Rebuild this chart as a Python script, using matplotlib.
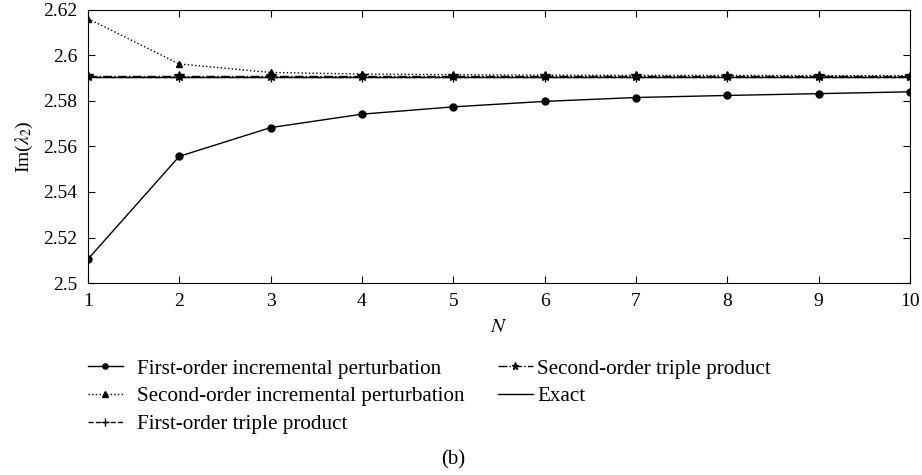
import matplotlib.pyplot as plt

plt.rcParams['font.family'] = 'Liberation Serif'
plt.rcParams['mathtext.fontset'] = 'stix'

# Nombre de termes N
N = [1, 2, 3, 4, 5, 6, 7, 8, 9, 10]

# Im(lambda_2) pour chaque méthode
premier_ordre_incr = [2.5105, 2.5556, 2.5682, 2.5741, 2.5773, 2.5797, 2.5814, 2.5823, 2.5831, 2.5839]
second_ordre_incr = [2.6160, 2.5961, 2.5924, 2.5917, 2.5914, 2.5912, 2.5911, 2.5911, 2.5910, 2.5910]
premier_ordre_triple = [2.5905, 2.5905, 2.5905, 2.5905, 2.5905, 2.5905, 2.5905, 2.5905, 2.5905, 2.5905]
second_ordre_triple = [2.5907, 2.5907, 2.5907, 2.5907, 2.5907, 2.5907, 2.5907, 2.5907, 2.5907, 2.5907]
exact = [2.5906, 2.5906, 2.5906, 2.5906, 2.5906, 2.5906, 2.5906, 2.5906, 2.5906, 2.5906]

fig = plt.figure(figsize=(9.22, 4.75), dpi=100)
ax = fig.add_axes([0.0954, 0.404, 0.8915, 0.576])

l1, = ax.plot(N, premier_ordre_incr, '-', color='black', lw=1, marker='o', ms=5,
              label='First-order incremental perturbation')
l2, = ax.plot(N, second_ordre_incr, ':', color='black', lw=1, marker='^', ms=5,
              label='Second-order incremental perturbation')
l3, = ax.plot(N, premier_ordre_triple, '--', color='black', lw=1, marker='+', ms=7,
              label='First-order triple product')
l4, = ax.plot(N, second_ordre_triple, '-.', color='black', lw=1, marker='*', ms=7,
              label='Second-order triple product')
l5, = ax.plot(N, exact, '-', color='black', lw=1, label='Exact')

ax.set_xlim(1, 10)
ax.set_ylim(2.5, 2.62)
ax.set_xticks(N)
ax.set_yticks([2.5, 2.52, 2.54, 2.56, 2.58, 2.6, 2.62])
ax.set_yticklabels(['2.5', '2.52', '2.54', '2.56', '2.58', '2.6', '2.62'])
ax.tick_params(direction='in', top=True, right=True, labelsize=14, length=5, width=0.8)
ax.tick_params(axis='x', pad=7)
ax.tick_params(axis='y', pad=7.5)
for s in ax.spines.values():
    s.set_linewidth(0.8)

ax.set_xlabel('$N$', fontsize=15, labelpad=6)
ax.set_ylabel(r'Im($\lambda_2$)', fontsize=14, labelpad=6)

# légende en deux colonnes sous le graphique
opts = dict(loc='upper left', frameon=False, fontsize=15.2, handlelength=1.65,
            labelspacing=0.37, borderpad=0, borderaxespad=0, markerscale=0.75)
leg1 = fig.legend(handles=[l1, l2, l3], bbox_to_anchor=(88 / 922, 1 - 359 / 475),
                  handletextpad=0.68, **opts)
leg2 = fig.legend(handles=[l4, l5], bbox_to_anchor=(498 / 922, 1 - 359 / 475),
                  handletextpad=0.22, **opts)

fig.text(0.492, 1 - 460 / 475, '(b)', fontsize=15, ha='center', va='center')

fig.savefig('out.png', dpi=100)
